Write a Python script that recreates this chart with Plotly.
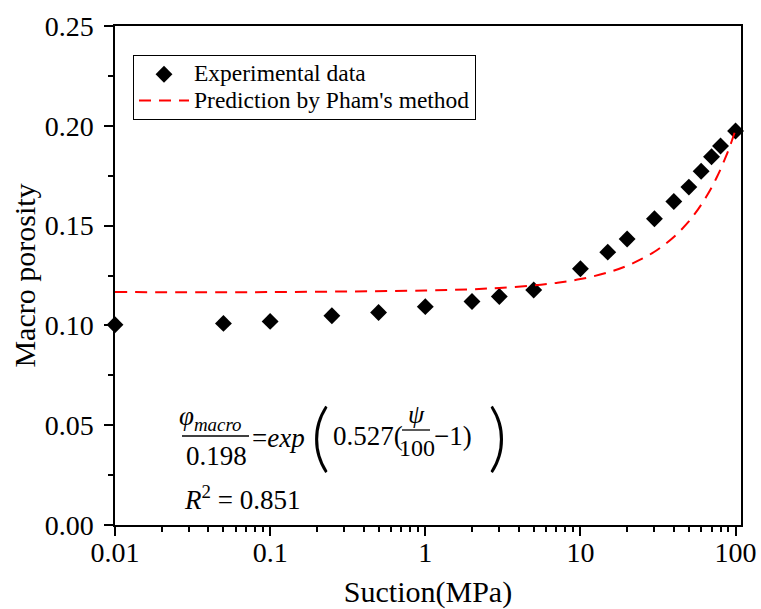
import plotly.graph_objects as go

# ---- data ----
suction_exp = [0.01, 0.05, 0.1, 0.25, 0.5, 1, 2, 3, 5, 10, 15, 20, 30, 40, 50, 60, 70, 80, 100]
porosity_exp = [0.1003, 0.1010, 0.1020, 0.1048, 0.1065, 0.1094, 0.1120, 0.1145, 0.1177,
                0.1284, 0.1367, 0.1433, 0.1534, 0.1621, 0.1693, 0.1772, 0.1845, 0.1899, 0.1974]

suction_pred = [0.01, 0.1, 1, 2, 3, 5, 7, 10, 15, 20, 25, 30, 35, 40, 45, 50, 55, 60,
                65, 70, 75, 80, 85, 90, 95, 100]
porosity_pred = [0.1167, 0.1167, 0.1175, 0.1181, 0.1188, 0.1200, 0.1213, 0.1232, 0.1265,
                 0.1299, 0.1334, 0.1369, 0.1406, 0.1443, 0.1482, 0.1521, 0.1562, 0.1604,
                 0.1647, 0.1690, 0.1736, 0.1782, 0.1830, 0.1878, 0.1929, 0.1980]

x_tickvals = [0.01, 0.1, 1, 10, 100]
x_ticktext = ["0.01", "0.1", "1", "10", "100"]
y_tickvals = [0.00, 0.05, 0.10, 0.15, 0.20, 0.25]

legend_names = ["Experimental data", "Prediction by Pham's method"]

FONT = "Liberation Serif, Times New Roman, serif"

W, H = 761, 609
L, R, T, B = 115, 741, 26, 525


def leg(name):
    return "<span style='font-size:23.5px'>" + name + "</span>"


fig = go.Figure()
fig.add_trace(go.Scatter(
    x=suction_exp, y=porosity_exp, mode="markers", name=leg(legend_names[0]),
    marker=dict(symbol="diamond", size=13, color="black", line=dict(width=0)),
    cliponaxis=False,
))
fig.add_trace(go.Scatter(
    x=suction_pred, y=porosity_pred, mode="lines", name=leg(legend_names[1]),
    line=dict(color="#ff0000", width=2, dash="12px,8px", shape="spline"),
))

minor_x = [m * 10 ** e for e in range(-2, 2) for m in range(2, 10)]

fig.update_layout(
    width=W, height=H,
    margin=dict(l=L, r=W - R, t=T, b=H - B, autoexpand=False),
    paper_bgcolor="white", plot_bgcolor="white",
    font=dict(family=FONT, color="black"),
    showlegend=True,
    legend=dict(
        x=(133 - L) / (R - L), y=(B - 55) / (B - T), xanchor="left", yanchor="top",
        bordercolor="black", borderwidth=1, bgcolor="white",
        font=dict(family=FONT, size=18, color="black"),
        itemwidth=50, tracegroupgap=0,
    ),
    xaxis=dict(
        type="log", range=[-2, 2.035], automargin=False,
        tickvals=x_tickvals, ticktext=x_ticktext,
        ticks="outside", ticklen=9, tickwidth=1.5, tickcolor="black",
        ticklabelstandoff=-7,
        minor=dict(tickvals=minor_x, ticks="outside", ticklen=5, tickwidth=1.5, tickcolor="black"),
        showline=True, linecolor="black", linewidth=1.5, mirror=True,
        showgrid=False, zeroline=False,
        tickfont=dict(family=FONT, size=28, color="black"),
        title=dict(text="Suction(MPa)", font=dict(family=FONT, size=30, color="black"), standoff=18),
    ),
    yaxis=dict(
        range=[0, 0.25], automargin=False,
        tickvals=y_tickvals, tickformat=".2f",
        ticks="outside", ticklen=9, tickwidth=1.5, tickcolor="black",
        ticklabelstandoff=5,
        minor=dict(dtick=0.025, ticks="outside", ticklen=5, tickwidth=1.5, tickcolor="black"),
        showline=True, linecolor="black", linewidth=1.5, mirror=True,
        showgrid=False, zeroline=False,
        tickfont=dict(family=FONT, size=28, color="black"),
        title=dict(text="Macro porosity", font=dict(family=FONT, size=30, color="black"), standoff=0),
    ),
)


def px(xp):
    return (xp - L) / (R - L)


def py(yp):
    return (B - yp) / (B - T)


def txt(text, xp, yp, size=27, xanchor="center", family=FONT, weight="normal"):
    fig.add_annotation(text=text, x=px(xp), y=py(yp), xref="paper", yref="paper",
                       xanchor=xanchor, yanchor="middle", showarrow=False,
                       font=dict(family=family, size=size, color="black", weight=weight))


def bar(x0, x1, yp):
    fig.add_shape(type="line", xref="paper", yref="paper",
                  x0=px(x0), x1=px(x1), y0=py(yp), y1=py(yp),
                  line=dict(color="black", width=1.3))


PAREN_FONT = "Lato, Liberation Serif, serif"

# equation
txt("<i>φ<sub>macro</sub></i>", 210, 418)
bar(182, 249, 436)
txt("0.198", 216, 456)
txt("=<i>exp</i>", 250, 438, xanchor="left")
txt("(", 320, 434, size=74, family=PAREN_FONT, weight=300)
txt("0.527(", 331, 436, xanchor="left")
txt("<i>ψ</i>", 416, 414, size=26)
bar(402, 430, 430)
txt("100", 417, 448, size=24)
txt("−1)", 432, 436, xanchor="left")
txt(")", 497, 434, size=74, family=PAREN_FONT, weight=300)
txt("<i>R</i><sup>2</sup> = 0.851", 182, 498, xanchor="left")

fig.write_html("out.html")
